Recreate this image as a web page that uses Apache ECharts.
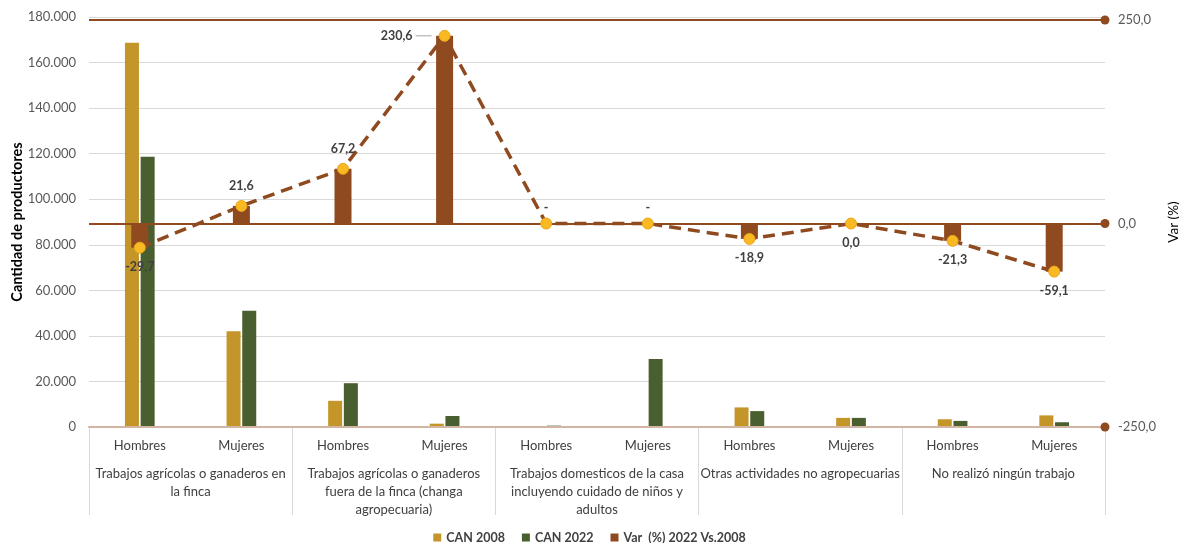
<!DOCTYPE html>
<html>
<head>
<meta charset="utf-8">
<script src="https://cdn.jsdelivr.net/npm/echarts@6/dist/echarts.min.js"></script>
<style>
html,body{margin:0;padding:0;background:#fff;}
#c{width:1179px;height:543px;}
</style>
</head>
<body>
<div id="c"></div>
<script>
const categories = ['Hombres','Mujeres','Hombres','Mujeres','Hombres','Mujeres','Hombres','Mujeres','Hombres','Mujeres'];
const groups = [
  'Trabajos agrícolas o ganaderos en\nla finca',
  'Trabajos agrícolas o ganaderos\nfuera de la finca (changa\nagropecuaria)',
  'Trabajos domesticos de la casa\nincluyendo cuidado de niños y\nadultos',
  'Otras actividades no agropecuarias',
  'No realizó ningún trabajo'
];
const can2008 = [168700, 42000, 11500, 1460, 0, 0, 8600, 4000, 3400, 5100];
const can2022 = [118600, 51070, 19230, 4830, 600, 29850, 6975, 4000, 2676, 2090];
const varPct = [-29.7, 21.6, 67.2, 230.6, '-', '-', -18.9, 0.0, -21.3, -59.1];
const leftTicks = [0, 20000, 40000, 60000, 80000, 100000, 120000, 140000, 160000, 180000];
const rightTicks = [-250, 0, 250];
const legendNames = ['CAN 2008', 'CAN 2022', 'Var  (%) 2022 Vs.2008'];

const FONT = 'Lato';
const BROWN = '#8f4a1f';
const GOLD = '#c49528';
const GREEN = '#4a5f2f';
const YELLOW = '#f9b923';

const fmtComma = v => v.toFixed(1).replace('.', ',');

const labelPos = ['bottom','top','top','left','top','top','bottom','bottom','bottom','bottom'];

const lineData = varPct.map((v, i) => {
  const isDash = (v === '-');
  return {
    value: isDash ? 0 : v,
    label: {
      position: labelPos[i],
      distance: isDash ? 3 : 7,
      formatter: isDash ? '-' : (labelPos[i] === 'left' ? '{t|' + fmtComma(v) + '} {l|}' : fmtComma(v))
    }
  };
});
const barVarData = varPct.map(v => (v === '-' ? 0 : v));

const chart = echarts.init(document.getElementById('c'), null, {renderer: 'canvas'});
chart.setOption({
  animation: false,
  backgroundColor: '#fff',
  textStyle: {fontFamily: FONT},
  grid: {left: 89, right: 74, top: 17, bottom: 116, containLabel: false, outerBoundsMode: 'none'},
  legend: {
    data: legendNames,
    top: 526,
    left: 'center',
    icon: 'rect',
    itemWidth: 8,
    itemHeight: 8,
    itemGap: 17,
    textStyle: {fontFamily: FONT, fontWeight: 'bold', fontSize: 12.5, color: '#404040'}
  },
  xAxis: [
    {
      type: 'category', data: categories, position: 'bottom',
      axisLine: {show: true, lineStyle: {color: '#d3b5a3', width: 2}},
      axisTick: {show: false},
      axisLabel: {interval: 0, margin: 12, fontFamily: FONT, fontSize: 13, color: '#404040'},
      z: 3
    },
    {
      type: 'category', data: categories, position: 'bottom', show: false
    },
    {
      type: 'category', data: groups, position: 'bottom',
      axisLine: {show: false},
      axisTick: {show: true, length: 88, interval: 0, lineStyle: {color: '#d9d9d9', width: 1}},
      axisLabel: {interval: 0, margin: 38, fontFamily: FONT, fontSize: 13, color: '#404040', lineHeight: 18}
    }
  ],
  yAxis: [
    {
      type: 'value', min: leftTicks[0], max: leftTicks[leftTicks.length - 1], interval: leftTicks[1] - leftTicks[0],
      name: 'Cantidad de productores', nameLocation: 'middle', nameGap: 64, nameRotate: 90,
      nameMoveOverlap: false,
      nameTextStyle: {fontFamily: FONT, fontWeight: 'bold', fontSize: 14.5, color: '#000'},
      axisLine: {show: false}, axisTick: {show: false},
      axisLabel: {margin: 13, fontFamily: FONT, fontSize: 13, color: '#595959',
        formatter: v => v === 0 ? '0' : v.toLocaleString('de-DE')},
      splitLine: {lineStyle: {color: '#d9d9d9', width: 1}}
    },
    {
      type: 'value', position: 'right', min: rightTicks[0], max: 253.7, interval: rightTicks[1] - rightTicks[0],
      name: 'Var (%)', nameLocation: 'middle', nameGap: 62, nameRotate: 90,
      nameMoveOverlap: false,
      nameTextStyle: {fontFamily: FONT, fontSize: 13.5, color: '#000'},
      axisLine: {show: false}, axisTick: {show: false},
      axisLabel: {margin: 13, fontFamily: FONT, fontSize: 13, color: '#595959',
        formatter: v => rightTicks.indexOf(v) >= 0 ? fmtComma(v) : ''},
      splitLine: {show: false}
    }
  ],
  series: [
    {
      name: legendNames[0], type: 'bar', xAxisIndex: 0, yAxisIndex: 0,
      data: can2008, barWidth: 14, barGap: '12%',
      itemStyle: {color: GOLD}, z: 2
    },
    {
      name: legendNames[1], type: 'bar', xAxisIndex: 0, yAxisIndex: 0,
      data: can2022, barWidth: 14, barGap: '12%',
      itemStyle: {color: GREEN}, z: 2
    },
    {
      name: legendNames[2], type: 'bar', xAxisIndex: 1, yAxisIndex: 1,
      data: barVarData, barWidth: 17,
      itemStyle: {color: BROWN}, z: 3,
      markLine: {
        silent: true,
        symbol: ['none', 'circle'],
        symbolSize: 9,
        label: {show: false},
        lineStyle: {color: BROWN, width: 2, type: 'solid'},
        data: [
          {yAxis: rightTicks[2]},
          {yAxis: rightTicks[1]},
          {yAxis: rightTicks[0], lineStyle: {color: BROWN, width: 0}}
        ],
        z: 4
      }
    },
    {
      name: 'linea', type: 'line', xAxisIndex: 1, yAxisIndex: 1,
      data: lineData,
      symbol: 'circle', symbolSize: 11,
      itemStyle: {color: YELLOW, borderColor: '#eaa81a', borderWidth: 1},
      lineStyle: {color: BROWN, width: 3.5, type: [12, 7]},
      z: 5,
      label: {
        show: true,
        fontFamily: FONT, fontWeight: 'bold', fontSize: 12.5, color: '#404040',
        rich: {
          t: {fontFamily: FONT, fontWeight: 'bold', fontSize: 12.5, color: '#404040'},
          l: {width: 16, height: 1, backgroundColor: '#a6a6a6'}
        }
      }
    }
  ]
});
</script>
</body>
</html>
